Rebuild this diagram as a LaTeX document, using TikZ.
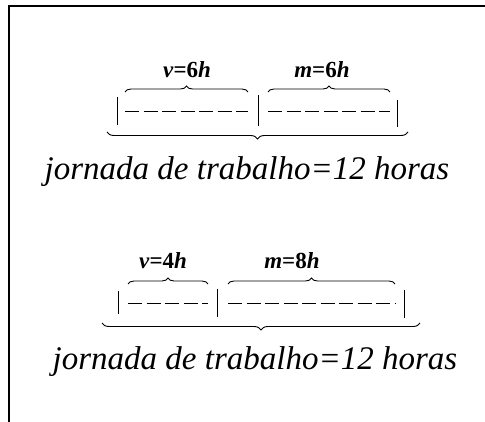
\documentclass[tikz,border=0pt]{standalone}
\usepackage{fontspec}
\setmainfont{Liberation Serif}
\usetikzlibrary{decorations.pathreplacing}
\begin{document}
\begin{tikzpicture}[x=1pt,y=-1pt,
  frameline/.style={line width=1.6pt},
  bar/.style={line width=1.0pt},
  dashline/.style={line width=0.8pt, dash pattern=on 14pt off 4.5pt},
  brc/.style={decorate, decoration={brace, amplitude=6pt}, line width=0.9pt},
  brcdown/.style={decorate, decoration={brace, mirror, amplitude=7pt}, line width=0.9pt},
  lbl/.style={font=\fontsize{23}{23}\selectfont\bfseries, inner sep=0pt, anchor=base},
  caption/.style={font=\fontsize{33}{33}\selectfont\itshape, inner sep=0pt, anchor=base}]
\useasboundingbox (0,0) rectangle (485,422);
% frame
\coordinate (fTL) at (9,6);
\coordinate (fTR) at (485,6);
\coordinate (fBL) at (9,422);
\draw[frameline] (fBL) -- (fTL) -- (fTR);

% ---- first diagram ----
\coordinate (a1t) at (117,97);  \coordinate (a1b) at (117,125);
\coordinate (a2t) at (258,95);  \coordinate (a2b) at (258,126);
\coordinate (a3t) at (397,100); \coordinate (a3b) at (397,127);
\draw[bar] (a1t) -- (a1b);
\draw[bar] (a2t) -- (a2b);
\draw[bar] (a3t) -- (a3b);
\coordinate (ad1s) at (125,111); \coordinate (ad1e) at (248,111);
\coordinate (ad2s) at (268,111); \coordinate (ad2e) at (390,111);
\draw[dashline] (ad1s) -- (ad1e);
\draw[dashline] (ad2s) -- (ad2e);
\coordinate (ab1s) at (125,92); \coordinate (ab1e) at (248,92);
\coordinate (ab2s) at (268,92); \coordinate (ab2e) at (390,92);
\draw[brc] (ab1s) -- (ab1e);
\draw[brc] (ab2s) -- (ab2e);
\coordinate (abbs) at (107,132); \coordinate (abbe) at (408,132);
\draw[brcdown] (abbs) -- (abbe);
\node[lbl] (av) at (187,78) {\textit{v}=6\textit{h}};
\node[lbl] (am) at (322,78) {\textit{m}=6\textit{h}};
\node[caption] (acap) at (247,180) {jornada de trabalho=12 horas};

% ---- second diagram ----
\coordinate (b1t) at (118,291); \coordinate (b1b) at (118,314);
\coordinate (b2t) at (217,289); \coordinate (b2b) at (217,317);
\coordinate (b3t) at (404,290); \coordinate (b3b) at (404,318);
\draw[bar] (b1t) -- (b1b);
\draw[bar] (b2t) -- (b2b);
\draw[bar] (b3t) -- (b3b);
\coordinate (bd1s) at (128,303); \coordinate (bd1e) at (208,303);
\coordinate (bd2s) at (228,303); \coordinate (bd2e) at (395,303);
\draw[dashline] (bd1s) -- (bd1e);
\draw[dashline] (bd2s) -- (bd2e);
\coordinate (bb1s) at (128,284); \coordinate (bb1e) at (208,284);
\coordinate (bb2s) at (228,284); \coordinate (bb2e) at (395,284);
\draw[brc] (bb1s) -- (bb1e);
\draw[brc] (bb2s) -- (bb2e);
\coordinate (bbbs) at (102,323); \coordinate (bbbe) at (420,323);
\draw[brcdown] (bbbs) -- (bbbe);
\node[lbl] (bv) at (163,269) {\textit{v}=4\textit{h}};
\node[lbl] (bm) at (292,269) {\textit{m}=8\textit{h}};
\node[caption] (bcap) at (255,369) {jornada de trabalho=12 horas};
\end{tikzpicture}
\end{document}
